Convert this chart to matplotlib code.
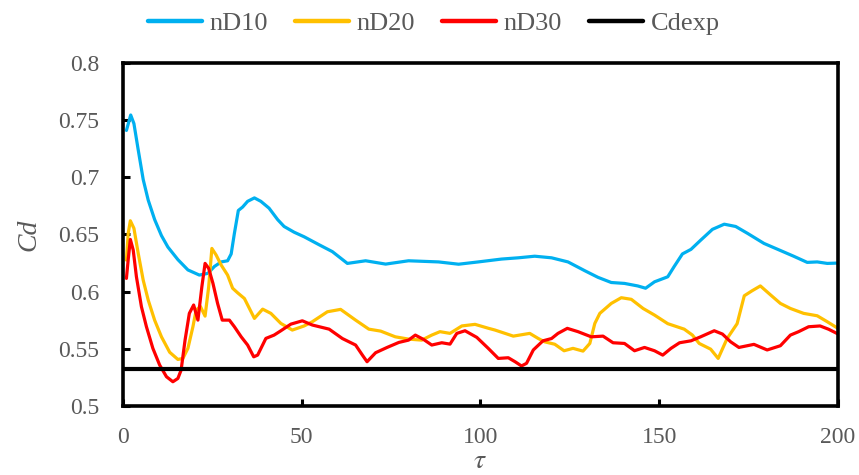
import matplotlib
matplotlib.use("Agg")
import matplotlib.pyplot as plt
from matplotlib.lines import Line2D

# Drag coefficient histories versus non-dimensional time
tau_nd10 = [1.0, 2.2, 3.1, 4.3, 5.7, 7.1, 8.9, 10.8, 12.6, 15.4, 18.2, 21.4, 23.8, 25.6,
            27.5, 29.3, 30.3, 31.2, 32.3, 33.5, 34.9, 36.8, 38.6, 40.9, 43.3, 45.1, 47.9,
            50.7, 54.9, 58.6, 62.8, 67.9, 73.5, 79.9, 88.3, 93.9, 99.4, 105.9, 110.6,
            115.2, 119.9, 124.5, 129.2, 132.9, 136.6, 140.3, 144.0, 146.2, 148.7, 152.4,
            154.2, 156.5, 158.9, 161.6, 164.9, 168.2, 171.4, 174.7, 179.3, 183.9, 187.6,
            191.4, 194.2, 197.0, 200.0]
cd_nd10 = [0.741, 0.7545, 0.747, 0.724, 0.698, 0.680, 0.663, 0.649, 0.639, 0.628, 0.619,
           0.6145, 0.616, 0.622, 0.626, 0.627, 0.633, 0.651, 0.671, 0.674, 0.679, 0.682,
           0.679, 0.673, 0.663, 0.657, 0.652, 0.648, 0.641, 0.635, 0.6247, 0.627, 0.6241,
           0.627, 0.626, 0.624, 0.626, 0.6285, 0.6296, 0.631, 0.6296, 0.626, 0.6183,
           0.6125, 0.608, 0.6072, 0.605, 0.603, 0.6086, 0.613, 0.622, 0.633, 0.637, 0.645,
           0.6545, 0.659, 0.657, 0.651, 0.6422, 0.636, 0.631, 0.6256, 0.626, 0.6247, 0.625]

tau_nd20 = [1.0, 1.5, 2.1, 3.1, 4.3, 5.7, 7.1, 8.9, 10.8, 13.1, 15.4, 16.8, 18.2, 19.6,
            20.5, 21.7, 23.0, 24.0, 24.9, 26.1, 27.5, 29.3, 30.7, 32.1, 34.0, 35.4, 36.8,
            39.1, 41.4, 44.2, 47.4, 50.7, 53.0, 57.2, 60.9, 65.1, 68.8, 72.1, 76.2, 79.9,
            83.6, 86.4, 88.7, 91.5, 94.8, 98.5, 102.2, 104.1, 109.2, 113.8, 116.2, 118.0,
            120.8, 123.4, 125.9, 128.7, 130.6, 132.0, 133.4, 136.6, 139.4, 142.2, 145.5,
            148.7, 152.4, 157.0, 159.3, 161.2, 164.4, 166.5, 169.0, 171.8, 173.8, 176.0,
            178.3, 181.2, 183.9, 186.7, 190.4, 194.2, 197.0, 200.0]
cd_nd20 = [0.6276, 0.651, 0.662, 0.6554, 0.6335, 0.610, 0.5926, 0.575, 0.5605, 0.547,
           0.5407, 0.5416, 0.5504, 0.5693, 0.5839, 0.587, 0.5786, 0.604, 0.6378, 0.632,
           0.6233, 0.6145, 0.603, 0.599, 0.594, 0.5853, 0.5766, 0.5847, 0.581, 0.5722,
           0.5664, 0.570, 0.5737, 0.5824, 0.5845, 0.5751, 0.5672, 0.5655, 0.5605, 0.5585,
           0.5576, 0.562, 0.565, 0.5635, 0.570, 0.5714, 0.568, 0.5664, 0.5611, 0.5635,
           0.559, 0.5561, 0.554, 0.5483, 0.5504, 0.548, 0.5547, 0.5722, 0.581, 0.5897,
           0.5947, 0.5933, 0.5853, 0.5795, 0.5720, 0.5672, 0.562, 0.5547, 0.5497, 0.5416,
           0.559, 0.572, 0.5964, 0.6008, 0.605, 0.597, 0.5897, 0.5853, 0.581, 0.5789,
           0.5737, 0.5679]

tau_nd30 = [1.0, 1.5, 2.1, 2.9, 3.8, 5.2, 6.6, 8.4, 10.3, 12.2, 14.0, 15.4, 16.3, 17.4,
            18.6, 19.8, 21.0, 22.1, 23.0, 24.0, 25.2, 26.5, 27.8, 29.8, 31.2, 33.1, 34.9,
            36.6, 37.7, 40.0, 42.3, 44.2, 47.0, 50.2, 53.0, 57.7, 61.4, 65.1, 67.0, 68.3,
            70.7, 73.9, 77.2, 79.9, 81.8, 84.1, 86.4, 89.2, 91.5, 93.4, 95.7, 99.0, 102.2,
            105.0, 107.8, 109.7, 111.5, 112.9, 114.8, 117.5, 119.9, 121.7, 124.3, 127.3,
            131.0, 134.3, 137.1, 140.3, 143.1, 145.9, 148.7, 151.0, 153.3, 155.7, 158.9,
            161.6, 165.4, 167.7, 170.0, 172.3, 176.5, 180.2, 183.9, 186.7, 189.0, 191.8,
            195.0, 197.4, 200.0]
cd_nd30 = [0.6116, 0.628, 0.6457, 0.6364, 0.613, 0.5868, 0.5693, 0.5504, 0.5358, 0.5256,
           0.5212, 0.5241, 0.5314, 0.5576, 0.581, 0.5883, 0.5751, 0.6043, 0.6247, 0.6204,
           0.6073, 0.5897, 0.5751, 0.5751, 0.5693, 0.5605, 0.5533, 0.543, 0.5445, 0.5591,
           0.562, 0.5658, 0.5716, 0.5745, 0.5708, 0.5672, 0.559, 0.5533, 0.5445, 0.5387,
           0.5466, 0.5512, 0.5556, 0.5576, 0.562, 0.5582, 0.5533, 0.5553, 0.5541, 0.5635,
           0.5658, 0.560, 0.5504, 0.5416, 0.5422, 0.5387, 0.535, 0.5373, 0.549, 0.557,
           0.559, 0.5635, 0.5679, 0.565, 0.5605, 0.5611, 0.5553, 0.5547, 0.5483, 0.5512,
           0.5483, 0.5445, 0.5504, 0.5553, 0.557, 0.5605, 0.5658, 0.5629, 0.5561, 0.5512,
           0.5539, 0.549, 0.5527, 0.562, 0.565, 0.5693, 0.570, 0.5671, 0.563]

cd_exp = 0.532

series_labels = ["nD10", "nD20", "nD30", "Cdexp"]
series_colors = ["#00B0F0", "#FFC000", "#FF0000", "#000000"]

x_ticks = [0, 50, 100, 150, 200]
y_ticks = [0.5, 0.55, 0.6, 0.65, 0.7, 0.75, 0.8]

grey = "#595959"
plt.rcParams["font.family"] = ["Liberation Serif", "DejaVu Serif"]
plt.rcParams["mathtext.fontset"] = "stix"

fig = plt.figure(figsize=(8.59, 4.75), dpi=100)
ax = fig.add_axes([0.143, 0.1453, 0.8325, 0.7221])

ax.plot(tau_nd10, cd_nd10, color=series_colors[0], lw=2.3, solid_capstyle="round")
ax.plot(tau_nd20, cd_nd20, color=series_colors[1], lw=2.3, solid_capstyle="round")
ax.plot(tau_nd30, cd_nd30, color=series_colors[2], lw=2.3, solid_capstyle="round")
ax.axhline(cd_exp, color=series_colors[3], lw=3.0)

ax.set_xlim(0, 200)
ax.set_ylim(0.5, 0.8)
ax.set_xticks(x_ticks)
ax.set_yticks(y_ticks)
ax.set_xticklabels([str(v) for v in x_ticks])
ax.set_yticklabels([f"{v:g}" for v in y_ticks])

for s in ax.spines.values():
    s.set_linewidth(2.6)
    s.set_color("black")

ax.tick_params(axis="both", direction="in", length=5, width=2.2, colors="black",
               labelcolor=grey, labelsize=17)
ax.tick_params(axis="x", pad=15)
ax.tick_params(axis="y", pad=17)

ax.set_xlabel(r"$\tau$", fontsize=20, color=grey, labelpad=1)
ax.set_ylabel("Cd", fontsize=20, color=grey, style="italic", labelpad=12)

handles = [Line2D([0], [0], color=c, lw=3.2, solid_capstyle="round") for c in series_colors]
leg = fig.legend(handles, series_labels, loc="upper center", bbox_to_anchor=(0.505, 1.025),
                 ncol=4, frameon=False, handlelength=2.05, handletextpad=0.3,
                 columnspacing=1.0, fontsize=19)
for t in leg.get_texts():
    t.set_color(grey)

fig.savefig("out.png", dpi=100)
